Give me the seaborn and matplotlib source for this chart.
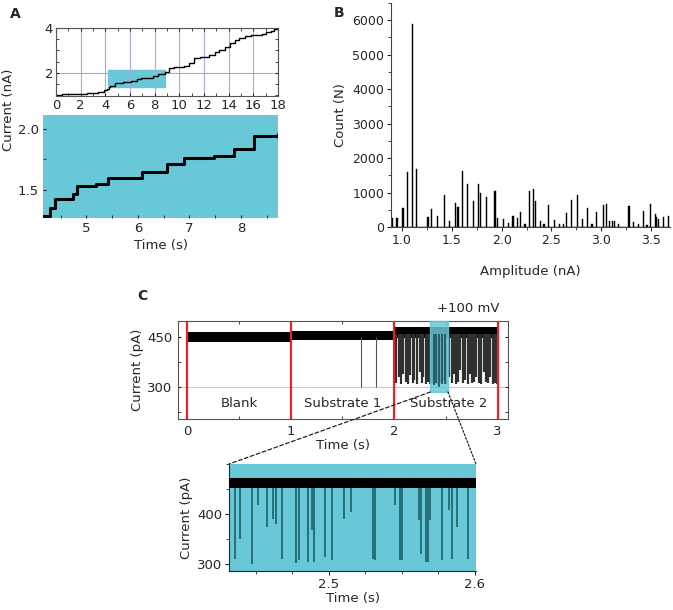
import numpy as np
import pandas as pd
import matplotlib
matplotlib.use("Agg")
import matplotlib.pyplot as plt
from matplotlib.patches import Rectangle, ConnectionPatch
from matplotlib.ticker import MultipleLocator
import seaborn as sns

# ---- panel A, overview trace (step levels, nA) ----
a_top_t = [0.0, 0.5, 1.2, 2.5, 3.4, 3.9, 4.16, 4.29, 4.40, 4.75, 4.82, 5.18, 5.42, 6.08, 6.56,
           6.90, 7.48, 7.87, 8.26, 8.8, 9.2, 9.6, 10.4, 10.8, 11.2, 11.7, 12.4, 12.9, 13.2,
           13.7, 14.1, 14.5, 14.8, 15.3, 15.8, 16.7, 17.0, 17.4, 17.7, 18.0]
a_top_v = [1.02, 1.05, 1.07, 1.09, 1.13, 1.25, 1.29, 1.35, 1.43, 1.47, 1.53, 1.55, 1.60, 1.65, 1.71,
           1.76, 1.78, 1.84, 1.94, 2.05, 2.20, 2.28, 2.32, 2.45, 2.65, 2.72, 2.80, 2.95, 3.02,
           3.15, 3.33, 3.45, 3.55, 3.63, 3.70, 3.72, 3.82, 3.88, 3.95, 3.98]

# ---- panel A, zoomed steps ----
a_zoom_t = [4.16, 4.29, 4.40, 4.75, 4.82, 5.18, 5.42, 6.08, 6.56, 6.90, 7.48, 7.87, 8.26, 8.71]
a_zoom_v = [1.29, 1.35, 1.43, 1.47, 1.53, 1.55, 1.60, 1.65, 1.71, 1.76, 1.78, 1.84, 1.94, 1.96]

# ---- panel B, amplitude histogram peaks ----
b_amp = [0.907, 0.953, 1.007, 1.053, 1.10, 1.147, 1.257, 1.297, 1.353, 1.433, 1.483, 1.537, 1.56,
         1.607, 1.657, 1.72, 1.767, 1.787, 1.847, 1.94, 1.963, 2.013, 2.063, 2.113, 2.163, 2.18,
         2.23, 2.277, 2.323, 2.34, 2.39, 2.423, 2.477, 2.53, 2.58, 2.613, 2.653, 2.707, 2.757,
         2.807, 2.853, 2.907, 2.957, 3.03, 3.047, 3.09, 3.113, 3.13, 3.173, 3.273, 3.323, 3.373,
         3.423, 3.463, 3.49, 3.537, 3.557, 3.577, 3.623, 3.67]
b_count = [250, 270, 540, 1590, 5900, 1670, 280, 520, 330, 920, 170, 710, 590,
           1620, 1260, 750, 1260, 990, 870, 1050, 250, 220, 120, 330, 270, 440,
           90, 1040, 1090, 760, 180, 100, 625, 200, 80, 90, 395, 780, 920,
           220, 555, 100, 430, 650, 680, 180, 180, 160, 100, 615, 150, 80,
           460, 70, 680, 375, 280, 230, 280, 310]

# ---- panel C, baseline bands (pA) per section ----
c_band_t0 = [0.0, 1.0, 2.0]
c_band_t1 = [1.0, 2.0, 3.0]
c_band_lo = [436, 440, 447]
c_band_hi = [464, 467, 480]
c_sections = ["Blank", "Substrate 1", "Substrate 2"]
c_section_x = [0.5, 1.5, 2.53]
c_sub1_spikes = [1.68, 1.82]
c_sub2_spikes = [2.02, 2.045, 2.065, 2.085, 2.11, 2.135, 2.155, 2.18, 2.195, 2.22, 2.245, 2.265,
                 2.28, 2.31, 2.33, 2.35, 2.37, 2.39, 2.405, 2.425, 2.445, 2.46, 2.48, 2.50,
                 2.53, 2.555, 2.575, 2.595, 2.62, 2.64, 2.665, 2.685, 2.71, 2.73, 2.75, 2.775,
                 2.795, 2.82, 2.84, 2.865, 2.885, 2.91, 2.93, 2.955, 2.975, 2.99]
c_sub2_depth = [312, 330, 310, 340, 315, 308, 335, 312, 320, 310, 345, 312,
                330, 310, 315, 308, 312, 310, 318, 308, 312, 315, 320, 310,
                330, 312, 340, 310, 315, 350, 312, 320, 308, 340, 312, 315,
                330, 312, 310, 345, 315, 312, 330, 310, 312, 308]

# ---- panel C inset, events ----
ins_t = [2.4356, 2.439, 2.4475, 2.4516, 2.4573, 2.4619, 2.4635, 2.468, 2.4774, 2.4795, 2.4854,
         2.4886, 2.49, 2.4973, 2.5023, 2.5103, 2.5149, 2.530, 2.5315, 2.5452, 2.5491, 2.5502,
         2.5619, 2.5635, 2.5669, 2.568, 2.5692, 2.5776, 2.5824, 2.5842, 2.5879, 2.5954]
ins_v = [311, 351, 301, 418, 375, 391, 381, 311, 303, 308, 305,
         368, 305, 315, 308, 391, 405, 311, 308, 418, 308, 308,
         388, 321, 305, 305, 388, 308, 408, 311, 375, 311]

CYAN = "#68c8d8"
sns.set_style("ticks")
plt.rcParams["font.family"] = ["DejaVu Sans"]
plt.rcParams["font.size"] = 9
plt.rcParams["xtick.labelsize"] = 9
plt.rcParams["ytick.labelsize"] = 9

fig = plt.figure(figsize=(6.73, 6.10), dpi=100)

# ===== Panel A top =====
ax1 = fig.add_axes([0.0832, 0.8426, 0.3299, 0.1115])
sns.lineplot(x=a_top_t, y=a_top_v, ax=ax1, color="black", lw=1.0, drawstyle="steps-post",
             estimator=None, sort=False)
ax1.add_patch(Rectangle((4.2, 1.35), 4.6, 0.8, color=CYAN, zorder=0))
ax1.set_xlim(0, 18)
ax1.set_ylim(0.97, 4.0)
ax1.set_xticks(range(0, 19, 2))
ax1.set_yticks([2, 4])
ax1.xaxis.set_minor_locator(MultipleLocator(1))
ax1.yaxis.set_minor_locator(MultipleLocator(0.5))
ax1.grid(True, which="major", color="#a8a8e8", lw=0.8)
ax1.tick_params(direction="in", top=True, right=True, which="both", length=2, pad=2)
ax1.tick_params(axis="x", labelsize=9.5)
ax1.tick_params(axis="y", labelsize=9.5)
for s in ax1.spines.values():
    s.set_color("#555555")
    s.set_linewidth(0.8)

# ===== Panel A bottom =====
ax2 = fig.add_axes([0.0639, 0.6426, 0.3492, 0.1689])
ax2.set_facecolor(CYAN)
sns.lineplot(x=a_zoom_t, y=a_zoom_v, ax=ax2, color="black", lw=2.2, drawstyle="steps-post",
             estimator=None, sort=False)
ax2.set_xlim(4.16, 8.72)
ax2.set_ylim(1.27, 2.115)
ax2.set_xticks([5, 6, 7, 8])
ax2.set_yticks([1.5, 2.0])
ax2.yaxis.set_major_formatter(matplotlib.ticker.FormatStrFormatter("%.1f"))
ax2.xaxis.set_minor_locator(MultipleLocator(0.5))
ax2.yaxis.set_minor_locator(MultipleLocator(0.25))
ax2.tick_params(direction="in", which="both", length=2, pad=3, labelsize=9.5)
for s in ax2.spines.values():
    s.set_visible(False)
ax2.set_xlabel("Time (s)", fontsize=9.5, labelpad=3)
ax2.set_ylabel("")
fig.text(0.012, 1 - 110 / 610, "Current (nA)", rotation=90, va="center", ha="center", fontsize=9.5)

# ===== Panel B =====
ax3 = fig.add_axes([0.581, 0.6279, 0.4146, 0.3672])
sns.histplot(x=b_amp, weights=b_count, binwidth=0.012, binrange=(0.884, 3.704), ax=ax3,
             color="black", edgecolor="black", linewidth=0.3, alpha=1.0, element="bars")
ax3.set_xlim(0.89, 3.69)
ax3.set_ylim(0, 6500)
ax3.set_xticks([1.0, 1.5, 2.0, 2.5, 3.0, 3.5])
ax3.set_yticks(range(0, 6001, 1000))
ax3.xaxis.set_minor_locator(MultipleLocator(0.25))
ax3.yaxis.set_minor_locator(MultipleLocator(500))
ax3.tick_params(which="major", length=3, pad=2, labelsize=9)
ax3.tick_params(which="minor", length=2)
sns.despine(ax=ax3)
for s in ax3.spines.values():
    s.set_color("#444444")
ax3.set_xlabel("Amplitude (nA)", fontsize=9.5, labelpad=13)
ax3.set_ylabel("Count (N)", fontsize=9.5, labelpad=4)

# ===== Panel C =====
ax4 = fig.add_axes([0.2645, 0.3131, 0.4903, 0.1607])
ax4.axhline(300, color="#c8c8c8", lw=0.8, zorder=0)
for t0, t1, lo, hi in zip(c_band_t0, c_band_t1, c_band_lo, c_band_hi):
    ax4.fill_between([t0, t1], lo, hi, color="black", lw=0, zorder=2)
ax4.vlines(c_sub1_spikes, 300, 450, color="#555555", lw=0.8, zorder=2)
ax4.vlines(c_sub2_spikes, c_sub2_depth, 460, color="#303030", lw=1.6, zorder=2)
ax4.add_patch(Rectangle((2.35, 285), 0.17, 213, color=CYAN, alpha=0.85, zorder=3, clip_on=False))
ax4.vlines([2.38, 2.40, 2.43, 2.46, 2.49], [305, 312, 300, 308, 310], 460, color="#1f4f55",
           lw=1.2, zorder=4)
ax4.vlines([0, 1, 2, 3], 204, 498, color="#e0262a", lw=1.6, zorder=5)
for name, xx in zip(c_sections, c_section_x):
    ax4.text(xx, 252, name, ha="center", va="center", fontsize=9.5, zorder=6)
ax4.set_xlim(-0.09, 3.1)
ax4.set_ylim(204, 498)
ax4.set_xticks([0, 1, 2, 3])
ax4.set_yticks([300, 450])
ax4.xaxis.set_minor_locator(MultipleLocator(0.5))
ax4.yaxis.set_minor_locator(MultipleLocator(75))
ax4.tick_params(direction="in", which="both", top=True, right=True, length=2.5, pad=4, labelsize=9.5)
for s in ax4.spines.values():
    s.set_color("#555555")
ax4.set_xlabel("Time (s)", fontsize=9.5, labelpad=1)
ax4.set_ylabel("Current (pA)", fontsize=9.5, labelpad=2)
fig.text(468 / 673, 1 - 308 / 610, "+100 mV", ha="center", va="center", fontsize=9.5)

# ===== Panel C inset =====
ax5 = fig.add_axes([0.3403, 0.0639, 0.367, 0.1754])
ax5.set_facecolor(CYAN)
ax5.vlines(ins_t, ins_v, 462, color="#14585e", lw=1.1, zorder=2)
ax5.axhspan(452, 472, color="black", lw=0, zorder=3)
ax5.set_xlim(2.4315, 2.601)
ax5.set_ylim(286, 500)
ax5.set_xticks([2.5, 2.6])
ax5.set_xticklabels(["2.5", "2.6"])
ax5.set_yticks([300, 400])
ax5.xaxis.set_minor_locator(MultipleLocator(0.025))
ax5.yaxis.set_minor_locator(MultipleLocator(50))
ax5.tick_params(which="both", length=3, pad=2, labelsize=9.5)
ax5.tick_params(which="minor", length=2)
sns.despine(ax=ax5)
ax5.set_xlabel("Time (s)", fontsize=9.5, labelpad=1)
ax5.set_ylabel("Current (pA)", fontsize=9.5, labelpad=3)

con1 = ConnectionPatch(xyA=(2.35, 285), coordsA=ax4.transData, xyB=(0, 1), coordsB=ax5.transAxes,
                       linestyle=(0, (3, 2)), color="#222222", lw=0.9)
con2 = ConnectionPatch(xyA=(2.52, 285), coordsA=ax4.transData, xyB=(1, 1), coordsB=ax5.transAxes,
                       linestyle=(0, (1.5, 1.5)), color="#222222", lw=0.9)
fig.add_artist(con1)
fig.add_artist(con2)

# panel letters
fig.text(10 / 673, 1 - 14 / 610, "A", fontsize=10, fontweight="bold", va="center")
fig.text(334 / 673, 1 - 13 / 610, "B", fontsize=10, fontweight="bold", va="center")
fig.text(137 / 673, 1 - 296 / 610, "C", fontsize=10, fontweight="bold", va="center")

fig.savefig("out.png", dpi=100)
